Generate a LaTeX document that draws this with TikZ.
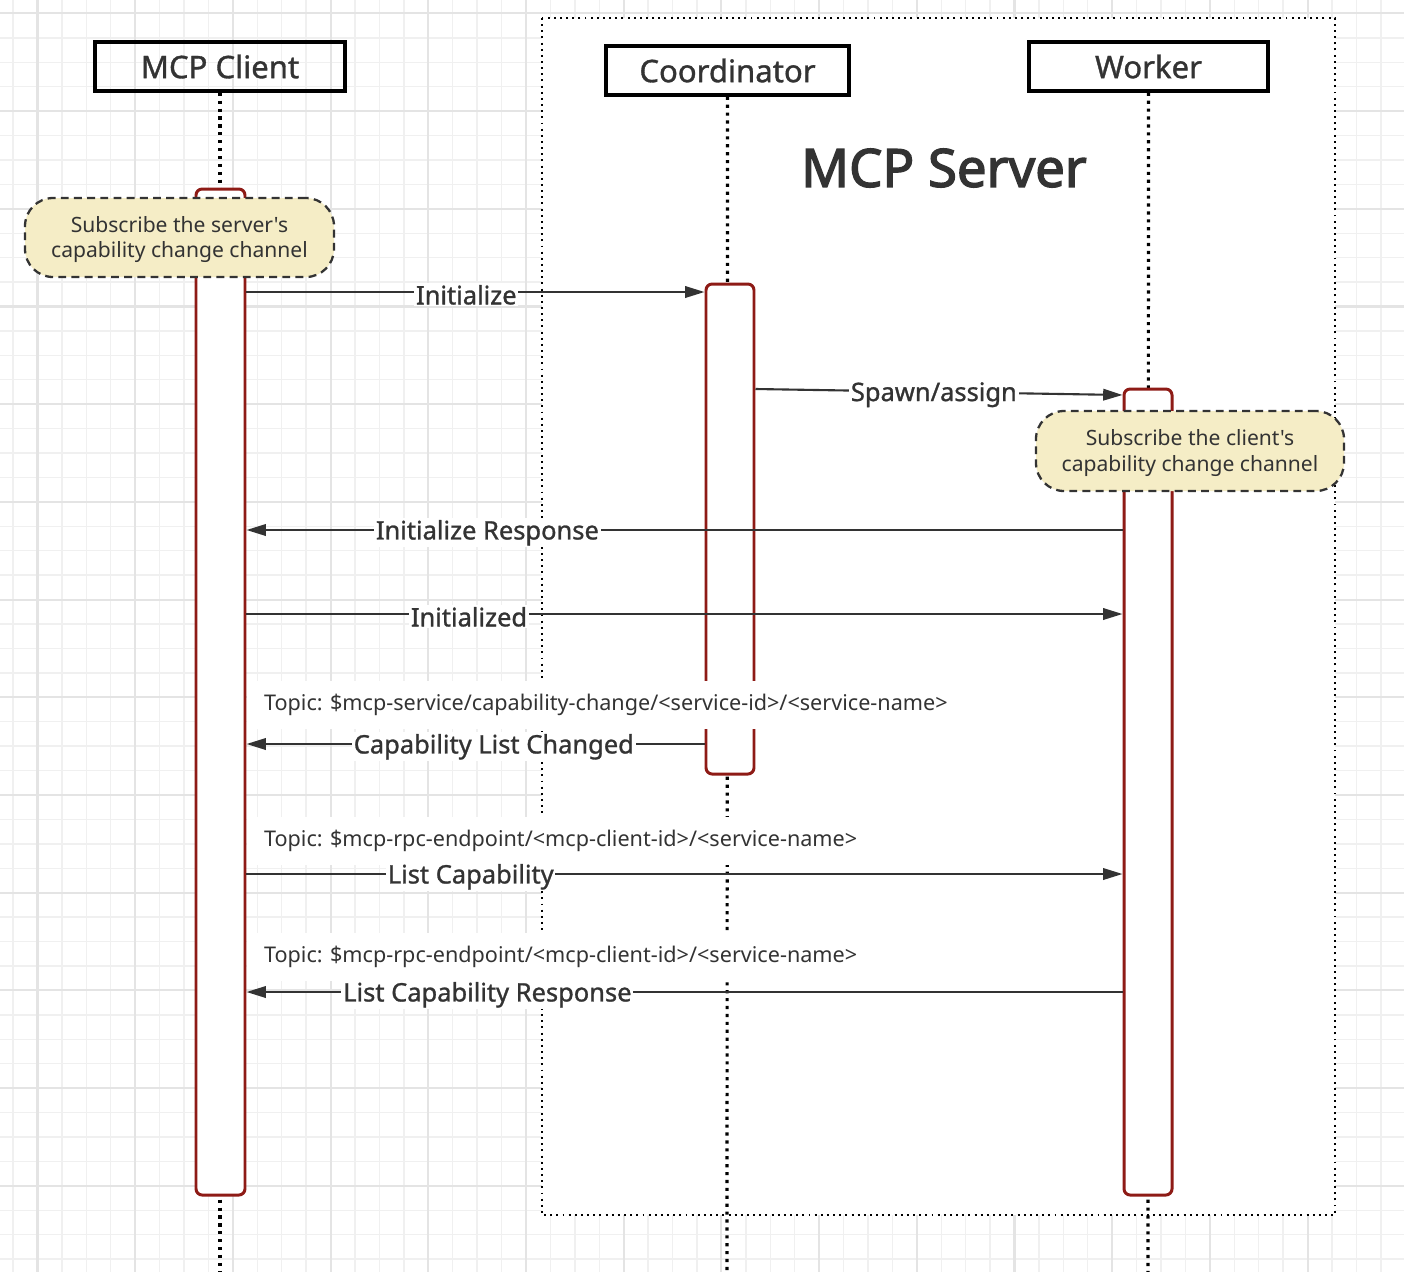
\documentclass[tikz,border=0pt]{standalone}
\usepackage{fontspec}
\setmainfont{Noto Sans}[Ligatures=TeXOff]
\newfontfamily\mediumfont{Noto Sans}[Ligatures=TeXOff, FakeBold=1.1]
\newfontfamily\titlefont{Noto Sans}[Ligatures=TeXOff, FakeBold=2.6]
\usetikzlibrary{arrows.meta,fit}
\definecolor{ink}{HTML}{333333}
\definecolor{actred}{HTML}{8E1B16}
\definecolor{notefill}{HTML}{F5EDC6}
\definecolor{gridminor}{HTML}{F0F0F0}
\definecolor{gridmajor}{HTML}{E4E4E4}

\begin{document}
\begin{tikzpicture}[x=0.02cm, y=-0.02cm,
    head/.style={draw=black, line width=2pt, inner sep=0pt},
    headtext/.style={text=ink, font=\mediumfont\fontsize{17.7}{20}\selectfont},
    act/.style={draw=actred, fill=white, line width=1.7pt, rounded corners=3.5pt, inner sep=0pt},
    note/.style={draw=ink, fill=notefill, line width=1.3pt, dash pattern=on 4.5pt off 3pt,
        rounded corners=16pt, inner sep=0pt},
    notetext/.style={text=ink, align=center, yshift=-1.1pt, font=\fontsize{12}{14.6}\selectfont},
    life/.style={line width=1.8pt, dash pattern=on 1.8pt off 2.7pt},
    msg/.style={draw=ink, line width=1.2pt, -{Triangle[length=11pt,width=6.5pt]}},
    lbl/.style={fill=white, inner sep=1pt, yshift=-1.6pt, text=ink, font=\mediumfont\fontsize{14.5}{17}\selectfont},
    topic/.style={fill=white, anchor=west, inner xsep=9.5pt, minimum height=27pt, text=ink,
        font=\fontsize{12.3}{14}\selectfont}]
    \useasboundingbox (0,0) rectangle (1404,1272);

    % canvas grid
    \fill[white] (0,0) rectangle (1404,1272);
    \foreach \k in {0,...,57}
        \draw[gridminor, line width=0.8pt] ({13.08+24.425*\k},0) -- ++(0,1272);
    \foreach \k in {0,...,51}
        \draw[gridminor, line width=0.8pt] (0,{13.4+24.425*\k}) -- ++(1404,0);
    \foreach \k in {0,...,13}
        \draw[gridmajor, line width=1.2pt] ({37.5+97.7*\k},0) -- ++(0,1272);
    \foreach \k in {0,...,12}
        \draw[gridmajor, line width=1.2pt] (0,{13.4+97.7*\k}) -- ++(1404,0);

    % server group
    \draw[fill=white, line width=1.1pt, dash pattern=on 1.1pt off 2.4pt] (542,18) rectangle (1335,1215);
    \node[text=ink, font=\titlefont\fontsize{30}{34}\selectfont] (serverTitle) at (944,168) {MCP Server};

    % participants
    \node[head, fit={(95,42) (345,91)}, label={[headtext]center:MCP Client}] (client) {};
    \node[head, fit={(606,46) (849,95)}, label={[headtext]center:Coordinator}] (coord) {};
    \node[head, fit={(1029,42) (1268,91)}, label={[headtext]center:Worker}] (worker) {};

    \coordinate (clientEnd) at (220,1272);
    \coordinate (coordEnd) at (727,1272);
    \coordinate (workerEnd) at (1148,1272);
    \draw[life] (client.south) -- (clientEnd);
    \draw[life] (coord.south) -- (coordEnd);
    \draw[life] (worker.south) -- (workerEnd);

    % activations
    \node[act, fit={(196,189) (245,1195)}] (clientAct) {};
    \node[act, fit={(706,284) (754,774)}] (coordAct) {};
    \node[act, fit={(1124,389) (1172,1195)}] (workerAct) {};

    % notes
    \node[note, fit={(25,198) (334,277)},
        label={[notetext]center:Subscribe the server's\\capability change channel}] (clientNote) {};
    \node[note, fit={(1036,411) (1344,491)},
        label={[notetext]center:Subscribe the client's\\capability change channel}] (workerNote) {};

    % message rows
    \coordinate (yInit) at (0,292);
    \coordinate (ySpawnA) at (0,389);
    \coordinate (ySpawnB) at (0,395);
    \coordinate (yResp) at (0,530);
    \coordinate (yDone) at (0,614);
    \coordinate (yChanged) at (0,744);
    \coordinate (yList) at (0,874);
    \coordinate (yListResp) at (0,992);

    \draw[msg] (clientAct.east |- yInit) -- node[lbl, pos=0.48] {Initialize} (coordAct.west |- yInit);
    \draw[msg] (coordAct.east |- ySpawnA) -- node[lbl, pos=0.486] {Spawn/assign} (workerAct.west |- ySpawnB);
    \draw[msg] (workerAct.west |- yResp) -- node[lbl, pos=0.725] {Initialize Response} (clientAct.east |- yResp);
    \draw[msg] (clientAct.east |- yDone) -- node[lbl, pos=0.254] {Initialized} (workerAct.west |- yDone);

    \node[topic] (topicChanged) at (247,705) {Topic: \$mcp-service/capability-change/<service-id>/<service-name>};
    \draw[msg] (coordAct.west |- yChanged) -- node[lbl, pos=0.46] {Capability List Changed} (clientAct.east |- yChanged);

    \node[topic] (topicList) at (247,841) {Topic: \$mcp-rpc-endpoint/<mcp-client-id>/<service-name>};
    \draw[msg] (clientAct.east |- yList) -- node[lbl, pos=0.256] {List Capability} (workerAct.west |- yList);

    \node[topic] (topicListResp) at (247,957) {Topic: \$mcp-rpc-endpoint/<mcp-client-id>/<service-name>};
    \draw[msg] (workerAct.west |- yListResp) -- node[lbl, pos=0.725] {List Capability Response} (clientAct.east |- yListResp);
\end{tikzpicture}
\end{document}
